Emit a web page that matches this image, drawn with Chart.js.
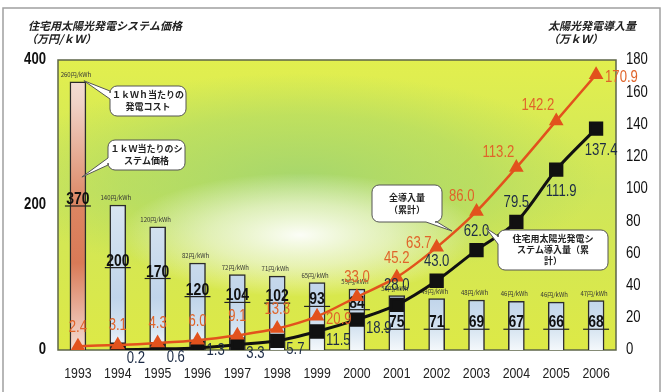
<!DOCTYPE html>
<html>
<head>
<meta charset="utf-8">
<script src="https://cdn.jsdelivr.net/npm/chart.js@4.4.1/dist/chart.umd.min.js"></script>
<style>
html, body { margin: 0; background: #fff; }
#wrap { width: 662px; height: 392px; }
</style>
</head>
<body>
<div id="wrap"><canvas id="chart"></canvas></div>
<script>
// data
const years = ['1993', '1994', '1995', '1996', '1997', '1998', '1999', '2000', '2001', '2002', '2003', '2004', '2005', '2006'];
const systemPrice = [370, 200, 170, 120, 104, 102, 93, 84, 75, 71, 69, 67, 66, 68];          // 万円/kW
const costPerKWh = [260, 140, 120, 82, 72, 71, 65, 59, 53, 49, 48, 46, 46, 47];               // 円/kWh
const totalInstalled = [2.4, 3.1, 4.3, 6.0, 9.1, 13.3, 20.9, 33.0, 45.2, 63.7, 86.0, 113.2, 142.2, 170.9];
const residentialInstalled = [null, 0.2, 0.6, 1.3, 3.3, 5.7, 11.5, 18.9, 28.0, 43.0, 62.0, 79.5, 111.9, 137.4];
const leftTicks = [0, 200, 400];
const rightTicks = [0, 20, 40, 60, 80, 100, 120, 140, 160, 180];

// where each line label sits relative to its point
const totalLabelPos = ['n', 'n', 'n', 'n', 'n', 'n', 'e', 'n', 'n', 'w', 'nw', 'nw', 'nw', 'e'];
const residLabelPos = [null, 'se', 'se', 'e', 'se', 'se', 'se', 'se', 'n', 'n', 'n', 'n', 's', 's'];

const NUM = '"Liberation Sans", Arial, sans-serif';
const JP = '"Noto Sans CJK JP", "Noto Sans", sans-serif';
const RED = '#e2521d';

// condensed text, the original uses a narrow face
function narrow(c, text, x, y, align, font, color, baseline) {
    c.save();
    c.translate(x, y);
    c.scale(0.82, 1);
    c.font = font;
    c.fillStyle = color;
    c.textAlign = align;
    c.textBaseline = baseline || 'middle';
    c.fillText(text, 0, 0);
    c.restore();
}

let blueGrad, pinkGrad;
function barFill(ctx) {
    const a = ctx.chart.chartArea;
    if (!a) return '#dde8f2';
    const c = ctx.chart.ctx;
    if (!blueGrad) {
        blueGrad = c.createLinearGradient(0, a.top, 0, a.bottom);
        blueGrad.addColorStop(0, '#eef3f8');
        blueGrad.addColorStop(0.5, '#d8e5f1');
        blueGrad.addColorStop(0.82, '#c0d4ea');
        blueGrad.addColorStop(0.92, '#d3e2f0');
        blueGrad.addColorStop(1, '#f4f8fb');
        pinkGrad = c.createLinearGradient(0, a.top, 0, a.bottom);
        pinkGrad.addColorStop(0, '#f6e6e0');
        pinkGrad.addColorStop(0.15, '#f0d2c6');
        pinkGrad.addColorStop(0.5, '#dc8562');
        pinkGrad.addColorStop(0.7, '#d97a57');
        pinkGrad.addColorStop(0.88, '#eab5a2');
        pinkGrad.addColorStop(1, '#f4dcd2');
    }
    return ctx.dataIndex === 0 ? pinkGrad : blueGrad;
}

function glow(c, a, cx, cy, rx, ry, stops) {
    c.save();
    c.beginPath();
    c.rect(a.left, a.top, a.right - a.left, a.bottom - a.top);
    c.clip();
    c.translate(cx, cy);
    c.scale(rx / ry, 1);
    const g = c.createRadialGradient(0, 0, 0, 0, 0, ry);
    stops.forEach(s => g.addColorStop(s[0], s[1]));
    c.fillStyle = g;
    c.fillRect(-ry, -ry, ry * 2, ry * 2);
    c.restore();
}

function callout(c, x, y, w, h, side, b1, b2, tipX, tipY, lines, lineH) {
    const r = 7;
    c.save();
    c.beginPath();
    c.moveTo(x + r, y);
    c.arcTo(x + w, y, x + w, y + h, r);
    c.arcTo(x + w, y + h, x, y + h, r);
    if (side === 'bottom') {
        c.lineTo(b2, y + h);
        c.lineTo(tipX, tipY);
        c.lineTo(b1, y + h);
    }
    c.arcTo(x, y + h, x, y, r);
    if (side === 'left') {
        c.lineTo(x, b2);
        c.lineTo(tipX, tipY);
        c.lineTo(x, b1);
    }
    c.arcTo(x, y, x + w, y, r);
    c.closePath();
    c.fillStyle = '#fff';
    c.fill();
    c.strokeStyle = '#555';
    c.lineWidth = 1;
    c.stroke();
    c.fillStyle = '#222';
    c.font = 'bold 9px ' + JP;
    c.textAlign = 'center';
    c.textBaseline = 'middle';
    const top = y + h / 2 - (lines.length - 1) * lineH / 2;
    lines.forEach((t, i) => c.fillText(t, x + w / 2, top + i * lineH));
    c.restore();
}

function placeLabel(pos, x, y) {
    switch (pos) {
        case 'n': return { x: x, y: y - 19, align: 'center' };
        case 'e': return { x: x + 9, y: y + 3, align: 'left' };
        case 'se': return { x: x + 9, y: y + 9, align: 'left' };
        case 's': return { x: x + 5, y: y + 22, align: 'center' };
        case 'nw': return { x: x - 2, y: y - 15, align: 'right' };
        case 'w': return { x: x - 5, y: y - 4, align: 'right' };
    }
    return { x: x, y: y, align: 'center' };
}

const decorPlugin = {
    id: 'decor',
    beforeDraw(chart) {
        const c = chart.ctx;
        const a = chart.chartArea;
        c.save();
        c.fillStyle = '#fff';
        c.fillRect(0, 0, chart.width, chart.height);
        // frame of the page
        c.strokeStyle = '#a0a0a0';
        c.lineWidth = 1.5;
        c.strokeRect(3, 8, chart.width - 5, chart.height);
        // plot background
        const g = c.createLinearGradient(0, a.top, 0, a.bottom);
        g.addColorStop(0, '#e2ef4e');
        g.addColorStop(0.45, '#cfe65a');
        g.addColorStop(1, '#dde946');
        c.fillStyle = g;
        c.fillRect(a.left, a.top, a.right - a.left, a.bottom - a.top);
        glow(c, a, 300, 178, 300, 105, [[0, 'rgba(160,212,112,0.85)'], [0.6, 'rgba(165,214,105,0.5)'], [1, 'rgba(170,215,100,0)']]);
        glow(c, a, 300, 235, 180, 62, [[0, 'rgba(255,255,255,0.95)'], [0.5, 'rgba(250,252,240,0.6)'], [1, 'rgba(255,255,255,0)']]);
        c.strokeStyle = '#5d6648';
        c.lineWidth = 1.5;
        c.strokeRect(a.left, a.top, a.right - a.left, a.bottom - a.top);
        c.restore();
    },
    afterDatasetDraw(chart, args) {
        if (args.index !== 0) return;
        const c = chart.ctx;
        const yL = chart.scales.yL;
        c.save();
        chart.getDatasetMeta(0).data.forEach((bar, i) => {
            const v = systemPrice[i];
            // price per kWh above the bar
            c.fillStyle = '#333';
            c.font = '6px ' + JP;
            c.textAlign = 'center';
            c.textBaseline = 'alphabetic';
            c.fillText(costPerKWh[i] + '円/kWh', bar.x - 2, bar.y - 5);
            // system price inside the bar, underlined
            const base = yL.getPixelForValue(v < 80 ? 30 : 0.5 * v + 15);
            narrow(c, String(v), bar.x, base - 1, 'center', 'bold 17px ' + NUM, '#111', 'alphabetic');
            c.strokeStyle = '#222';
            c.lineWidth = 1.2;
            c.beginPath();
            c.moveTo(bar.x - 13, base + 1);
            c.lineTo(bar.x + 13, base + 1);
            c.stroke();
        });
        c.restore();
    },
    afterDraw(chart) {
        const c = chart.ctx;
        const a = chart.chartArea;
        c.save();
        // axis tick labels through the scales
        const xs = chart.scales.x, yL = chart.scales.yL, yR = chart.scales.yR;
        xs.ticks.forEach((t, i) => narrow(c, years[i], xs.getPixelForTick(i), a.bottom + 24, 'center', '15px ' + NUM, '#222'));
        yL.ticks.forEach(t => narrow(c, String(t.value), a.left - 12, yL.getPixelForValue(t.value), 'right', 'bold 16px ' + NUM, '#111'));
        yR.ticks.forEach(t => narrow(c, String(t.value), a.right + 10, yR.getPixelForValue(t.value), 'left', '16px ' + NUM, '#111'));

        const sets = [[1, totalInstalled, totalLabelPos, '#e0642a'], [2, residentialInstalled, residLabelPos, '#1c2b45']];
        sets.forEach(([idx, vals, pos, color]) => {
            chart.getDatasetMeta(idx).data.forEach((pt, i) => {
                if (vals[i] === null) return;
                const p = placeLabel(pos[i], pt.x, pt.y);
                narrow(c, vals[i].toFixed(1), p.x, p.y, p.align, '16px ' + NUM, color);
            });
        });

        const first = chart.getDatasetMeta(0).data[0];
        callout(c, 110, 86, 76, 30, 'left', 91, 99, first.x + 6, first.y - 1, ['１ｋＷｈ当たりの', '発電コスト'], 12);
        callout(c, 108, 140, 77, 30, 'left', 158, 165, first.x + 4, 177, ['１ｋＷ当たりのシ', 'ステム価格'], 12);
        callout(c, 372, 185, 70, 37, 'bottom', 426, 437, 452, 231, ['全導入量', '（累計）'], 12);
        callout(c, 498, 230, 110, 40, 'left', 236, 244, 486, 228, ['住宅用太陽光発電シ', 'ステム導入量（累', '計）'], 11);

        // axis titles
        c.fillStyle = '#222';
        c.textAlign = 'left';
        c.textBaseline = 'middle';
        c.font = 'italic bold 11px ' + JP;
        c.fillText('住宅用太陽光発電システム価格', 28, 26);
        c.fillText('（万円/ｋＷ）', 26, 39);
        c.fillText('太陽光発電導入量', 548, 26);
        c.fillText('（万ｋＷ）', 548, 39);
        c.restore();
    }
};

new Chart(document.getElementById('chart'), {
    type: 'bar',
    data: {
        labels: years,
        datasets: [
            {
                label: 'システム価格',
                data: systemPrice,
                yAxisID: 'yL',
                backgroundColor: barFill,
                borderColor: '#2b2b2b',
                borderWidth: 1.5,
                borderSkipped: 'bottom',
                barThickness: 16,
                order: 3
            },
            {
                type: 'line',
                label: '全導入量（累計）',
                data: totalInstalled,
                yAxisID: 'yR',
                borderColor: RED,
                backgroundColor: RED,
                borderWidth: 2.5,
                pointStyle: 'triangle',
                pointRadius: 6,
                tension: 0.3,
                order: 1
            },
            {
                type: 'line',
                label: '住宅用太陽光発電システム導入量（累計）',
                data: residentialInstalled,
                yAxisID: 'yR',
                borderColor: '#111',
                backgroundColor: '#111',
                borderWidth: 3,
                pointStyle: 'rect',
                pointRadius: 8,
                tension: 0.3,
                order: 2
            }
        ]
    },
    options: {
        responsive: true,
        maintainAspectRatio: false,
        animation: false,
        layout: { padding: { top: 60, left: 0, right: 0, bottom: 0 } },
        plugins: {
            legend: { display: false },
            tooltip: { enabled: false }
        },
        scales: {
            x: {
                grid: { display: false, drawTicks: false },
                border: { display: false },
                ticks: { display: false, autoSkip: false, maxRotation: 0 },
                afterFit(scale) { scale.height = 42; }
            },
            yL: {
                position: 'left',
                min: 0,
                max: 400,
                afterBuildTicks(scale) { scale.ticks = leftTicks.map(v => ({ value: v })); },
                grid: { display: false, drawTicks: false },
                border: { display: false },
                ticks: { display: false },
                afterFit(scale) { scale.width = 58; }
            },
            yR: {
                position: 'right',
                min: 0,
                max: 180,
                afterBuildTicks(scale) { scale.ticks = rightTicks.map(v => ({ value: v })); },
                grid: { display: false, drawTicks: false },
                border: { display: false },
                ticks: { display: false },
                afterFit(scale) { scale.width = 46; }
            }
        }
    },
    plugins: [decorPlugin]
});
</script>
</body>
</html>
